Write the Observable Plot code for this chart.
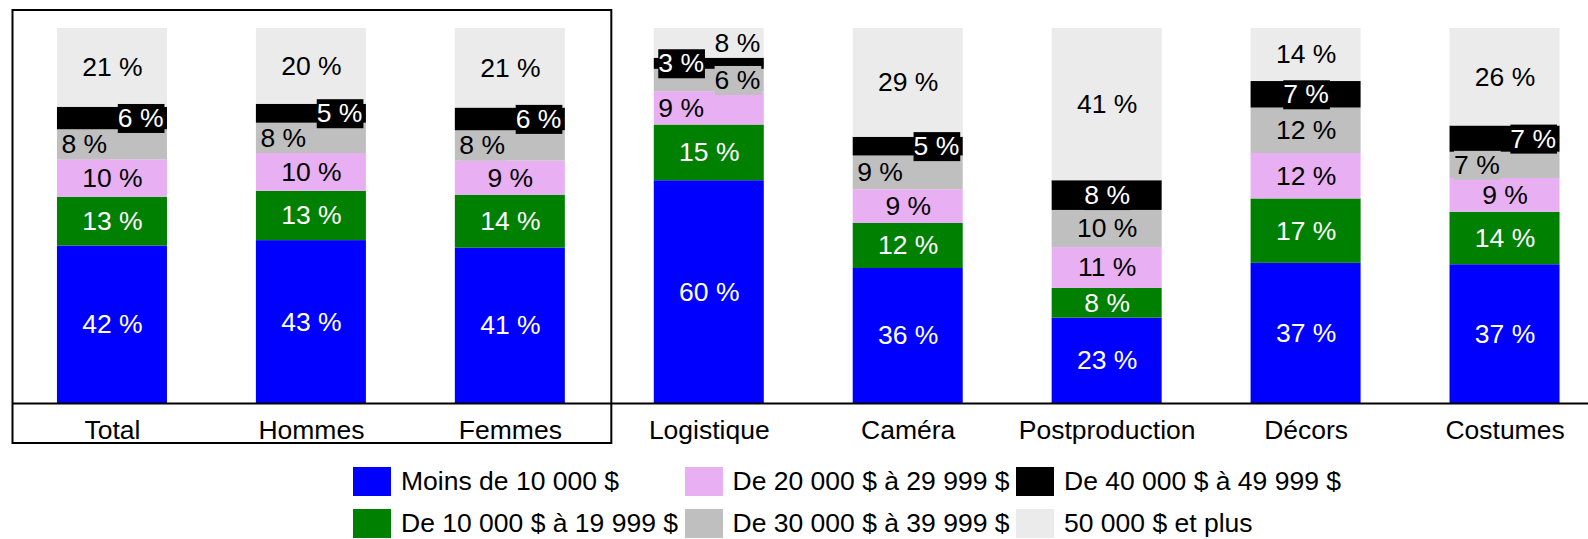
<!DOCTYPE html>
<html><head><meta charset="utf-8">
<script src="https://cdn.jsdelivr.net/npm/d3@7"></script>
<script src="https://cdn.jsdelivr.net/npm/@observablehq/plot@0.6"></script>
<style>
body{margin:0;background:#fff;font-family:"Liberation Sans",Arial,sans-serif;}
#wrap{position:relative;width:1588px;height:539px;overflow:hidden;background:#fff;}
#wrap svg{position:absolute;left:0;top:0;}
.leg{position:absolute;display:flex;align-items:center;font-size:26.5px;line-height:29px;color:#000;white-space:nowrap;}
.sw{width:38px;height:29px;margin-right:10px;flex:none;}
</style></head><body><div id="wrap"></div>
<script>
const categories = ["Total","Hommes","Femmes","Logistique","Caméra","Postproduction","Décors","Costumes"];
const series = ["Moins de 10 000 $","De 10 000 $ à 19 999 $","De 20 000 $ à 29 999 $","De 30 000 $ à 39 999 $","De 40 000 $ à 49 999 $","50 000 $ et plus"];
const moins10k = [42,43,41,60,36,23,37,37];
const de10a19k = [13,13,14,15,12,8,17,14];
const de20a29k = [10,10,9,9,9,11,12,9];
const de30a39k = [8,8,8,6,9,10,12,7];
const de40a49k = [6,5,6,3,5,8,7,7];
const plus50k  = [21,20,21,8,29,41,14,26];
const seriesValues = [moins10k,de10a19k,de20a29k,de30a39k,de40a49k,plus50k];

// styling (kept apart from the data)
const colors = ["#0000ff","#008000","#e8b0f3","#bfbfbf","#000000","#ebebeb"];
const textColors = ["#fff","#fff","#000","#000","#fff","#000"];
const labelBg = [null,null,null,"#bfbfbf","#000000",null];
// label alignment per series (rows) and category (chars): c centre, l left, r right
const labelAlign = ["cccccccc","cccccccc","ccclcccc","lllrlccl","rrrlrccr","cccrcccc"];

const rows = [];
categories.forEach((c,i)=>{
  const vals = seriesValues.map(a=>a[i]);
  const tot = d3.sum(vals);
  let acc = 0;
  series.forEach((s,j)=>{
    const v = vals[j];
    rows.push({cat:c, series:s, j, value:v, y1:acc/tot, y2:(acc+v)/tot, align:labelAlign[j][i]});
    acc += v;
  });
});

const W = 1588, H = 455, BASE = 403, FS = 26.5;
const groups = d3.groups(rows, d=>d.align+"|"+d.j);
const labelMarks = groups.map(([key, data])=>{
  const [al, js] = key.split("|"); const j = +js;
  const anchor = al==="l"?"start":al==="r"?"end":"middle";
  const dx = al==="l"?-51:al==="r"?51:0;
  return Plot.text(data, {x:"cat", y:d=>(d.y1+d.y2)/2, text:d=>d.value+" %", textAnchor:anchor, dx,
    fill:textColors[j], fontSize:FS, className: labelBg[j] ? "bg-"+labelBg[j].slice(1) : undefined});
});

const plot = Plot.plot({
  width: W, height: H,
  marginLeft: 12, marginRight: 0, marginTop: 28, marginBottom: H-BASE,
  style: {fontFamily:"Liberation Sans, Arial, sans-serif", fontSize:FS+"px", background:"#fff", color:"#000", overflow:"visible"},
  x: {domain: categories, range:[12.5, 1604], paddingInner:0.447, paddingOuter:0.2235, round:false, label:null},
  y: {domain:[0,1], axis:null},
  color: {domain: series, range: colors},
  marks: [
    Plot.barY(rows, {x:"cat", y1:"y1", y2:"y2", fill:"series"}),
    Plot.ruleY([0], {stroke:"#000", strokeWidth:2}),
    ...labelMarks,
    Plot.axisX({tickSize:0, tickPadding:17, fontSize:FS, label:null})
  ]
});
const wrap = document.getElementById("wrap");
wrap.appendChild(plot);

// label background boxes
const svg = d3.select(plot);
svg.selectAll("g[class^='bg-'], g[class*=' bg-']").each(function(){
  const cls = Array.from(this.classList).find(c=>c.startsWith("bg-"));
  const col = "#"+cls.slice(3);
  d3.select(this).selectAll("text").each(function(){
    const b = this.getBBox();
    const t = this.getAttribute("transform");
    const r = document.createElementNS("http://www.w3.org/2000/svg","rect");
    r.setAttribute("x", b.x); r.setAttribute("y", b.y+1);
    r.setAttribute("width", b.width+1); r.setAttribute("height", b.height-1);
    r.setAttribute("fill", col);
    if (t) r.setAttribute("transform", t);
    this.parentNode.insertBefore(r, this);
  });
});

// frame round the first three categories
const xs = plot.scale("x");
const gap = (xs.step - xs.bandwidth)/2;
const left = xs.apply("Total") - gap;
const right = xs.apply("Femmes") + xs.bandwidth + gap;
svg.append("rect").attr("x", left).attr("y", 10).attr("width", right-left+2).attr("height", 433)
  .attr("fill","none").attr("stroke","#000").attr("stroke-width",2);

// legend
series.forEach((s,j)=>{
  const col = Math.floor(j/2), row = j%2;
  const d = document.createElement("div");
  d.className = "leg";
  d.style.left = (353 + col*331.5) + "px";
  d.style.top = (467 + row*42) + "px";
  d.innerHTML = `<div class="sw" style="background:${colors[j]}"></div><span>${s}</span>`;
  wrap.appendChild(d);
});
</script></body></html>
